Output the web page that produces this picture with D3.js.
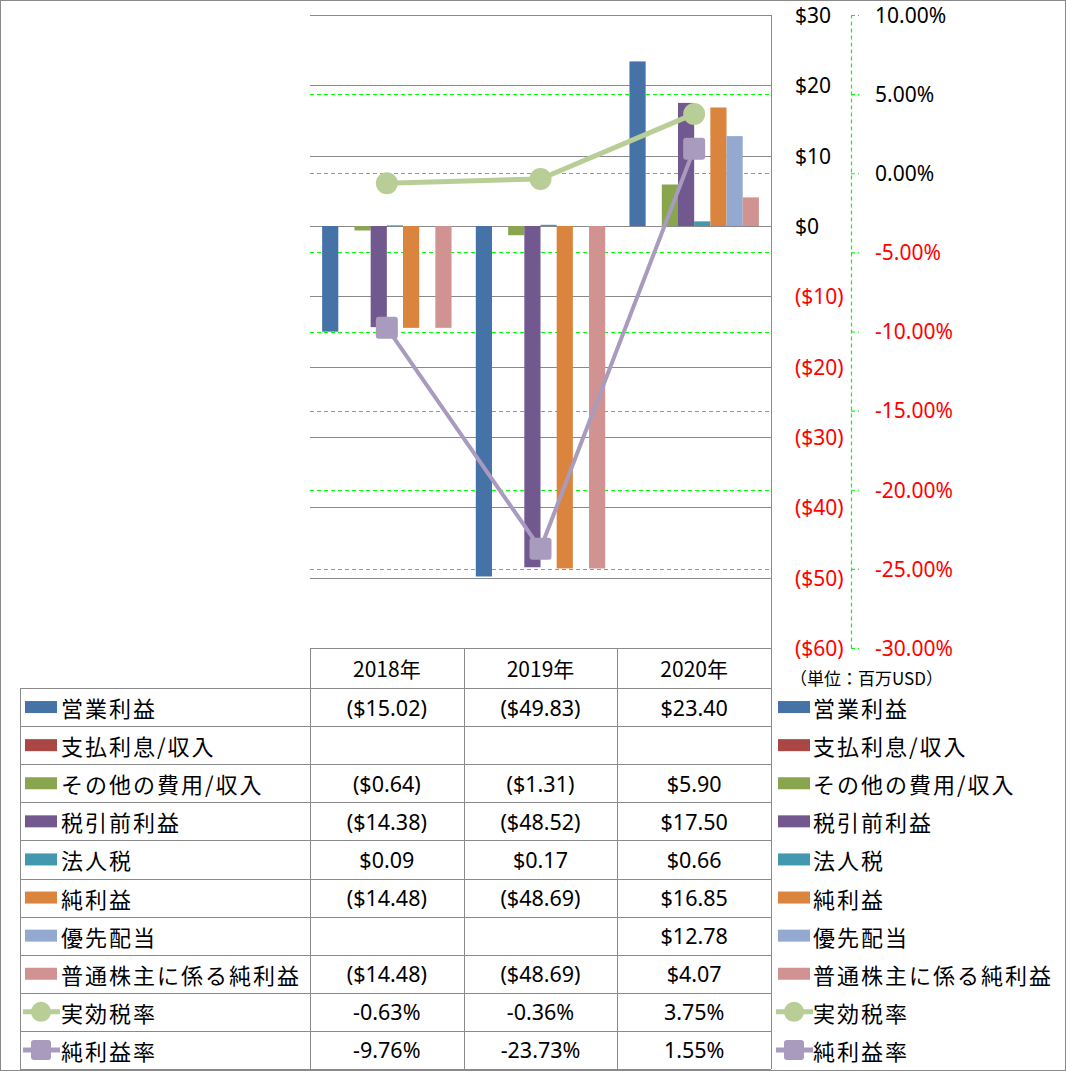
<!DOCTYPE html>
<html>
<head>
<meta charset="utf-8">
<script src="https://cdn.jsdelivr.net/npm/d3@7"></script>
<style>
  body { margin: 0; background: #fff; }
  svg text { font-family: "Noto Sans", sans-serif; }
  .jp { font-family: "Noto Sans CJK JP", sans-serif; }
</style>
</head>
<body>
<div id="chart"></div>
<script>
// Income summary: bars on $ axis (left/primary), rates on % axis (secondary)

const years = ['2018年', '2019年', '2020年'];

const barNames = ['営業利益', '支払利息/収入', 'その他の費用/収入', '税引前利益', '法人税', '純利益', '優先配当', '普通株主に係る純利益'];
const opIncome    = [-15.02, -49.83, 23.40];
const interest    = [null, null, null];
const otherExp    = [-0.64, -1.31, 5.90];
const preTax      = [-14.38, -48.52, 17.50];
const incomeTax   = [0.09, 0.17, 0.66];
const netIncome   = [-14.48, -48.69, 16.85];
const prefDiv     = [null, null, 12.78];
const commonNet   = [-14.48, -48.69, 4.07];
const barValues = [opIncome, interest, otherExp, preTax, incomeTax, netIncome, prefDiv, commonNet];
const barColors = ['#4572a7', '#aa4643', '#89a54e', '#71588f', '#4198af', '#db843d', '#93a9cf', '#d19392'];

const lineNames = ['実効税率', '純利益率'];
const taxRate   = [-0.63, -0.36, 3.75];
const netMargin = [-9.76, -23.73, 1.55];
const lineValues = [taxRate, netMargin];
const lineColors = ['#b9cd96', '#a99bbd'];

const dollarTicks = [30, 20, 10, 0, -10, -20, -30, -40, -50, -60];
const pctTicks = [10, 5, 0, -5, -10, -15, -20, -25, -30];

const W = 1066, H = 1071;
const plot = {left: 310, right: 771, top: 15, bottom: 648};
const rowH = 38.1, headTop = 648, rowTop = 688;
const gridColor = '#8a8a8a';

const svg = d3.select('#chart').append('svg')
	.attr('width', W)
	.attr('height', H);

const x = d3.scaleBand()
	.domain(years)
	.range([plot.left, plot.right])
	.padding(0);

const xs = d3.scaleBand()
	.domain(barNames)
	.range([0, x.bandwidth()])
	.paddingInner(0)
	.paddingOuter(0.75);

const y = d3.scaleLinear()
	.domain([-60, 30])
	.range([plot.bottom, plot.top]);

const y2 = d3.scaleLinear()
	.domain([-30, 10])
	.range([plot.bottom, plot.top]);

const fmtDollarAxis = v => v < 0 ? `($${-v})` : `$${v}`;
const fmtDollar = v => v == null ? '' : (v < 0 ? `($${Math.abs(v).toFixed(2)})` : `$${v.toFixed(2)}`);
const fmtPct = v => v.toFixed(2) + '%';

// outer frame
svg.append('rect')
	.attr('x', 0.5).attr('y', 0.5)
	.attr('width', W - 1).attr('height', H - 1)
	.attr('fill', 'none')
	.attr('stroke', gridColor);

// primary gridlines
svg.append('g')
	.selectAll('line')
	.data(dollarTicks)
	.join('line')
	.attr('x1', plot.left).attr('x2', plot.right)
	.attr('y1', d => Math.round(y(d)) + 0.5)
	.attr('y2', d => Math.round(y(d)) + 0.5)
	.attr('stroke', gridColor);

// secondary gridlines (green dashed)
svg.append('g')
	.selectAll('line')
	.data(pctTicks.filter(d => d !== 10 && d !== -30))
	.join('line')
	.attr('x1', plot.left).attr('x2', plot.right)
	.attr('y1', d => Math.round(y2(d)) + 0.5)
	.attr('y2', d => Math.round(y2(d)) + 0.5)
	.attr('stroke', '#00ff00')
	.attr('stroke-dasharray', '4,3');

// bars
const barGroups = svg.append('g')
	.selectAll('g')
	.data(barNames.map((name, i) => ({name, color: barColors[i], values: barValues[i]})))
	.join('g')
	.attr('fill', d => d.color);

barGroups.selectAll('rect')
	.data(d => d.values.map((v, j) => ({name: d.name, year: years[j], v})).filter(e => e.v != null))
	.join('rect')
	.attr('x', d => x(d.year) + xs(d.name))
	.attr('width', xs.bandwidth())
	.attr('y', d => y(Math.max(0, d.v)))
	.attr('height', d => Math.max(1, Math.abs(y(d.v) - y(0))));

// rate lines
const line = d3.line()
	.x((d, j) => x(years[j]) + x.bandwidth() / 2)
	.y(d => y2(d));

lineValues.forEach((vals, i) => {
	svg.append('path')
		.datum(vals)
		.attr('d', line)
		.attr('fill', 'none')
		.attr('stroke', lineColors[i])
		.attr('stroke-width', i === 0 ? 5 : 4)
		.attr('stroke-linejoin', 'round');

	const pts = svg.append('g')
		.selectAll('g')
		.data(vals)
		.join('g')
		.attr('transform', (d, j) => `translate(${x(years[j]) + x.bandwidth() / 2},${y2(d)})`);

	if (i === 0) {
		pts.append('circle').attr('r', 11).attr('fill', lineColors[i]);
	} else {
		pts.append('rect')
			.attr('x', -11).attr('y', -11)
			.attr('width', 22).attr('height', 22)
			.attr('rx', 3)
			.attr('fill', lineColors[i]);
	}
});

// plot right border
svg.append('line')
	.attr('x1', plot.right + 0.5).attr('x2', plot.right + 0.5)
	.attr('y1', plot.top).attr('y2', rowTop + rowH * 10)
	.attr('stroke', gridColor);

// primary axis labels
const yAxis = svg.append('g')
	.attr('transform', `translate(${plot.right},0)`)
	.call(d3.axisRight(y).tickValues(dollarTicks).tickSize(0).tickPadding(24).tickFormat(fmtDollarAxis));
yAxis.select('.domain').remove();
yAxis.selectAll('text')
	.attr('font-family', '"Noto Sans", sans-serif')
	.attr('font-size', 21)
	.attr('dy', '0.35em')
	.attr('fill', d => d < 0 ? '#ff0000' : '#000');

// secondary axis
const y2Axis = svg.append('g')
	.attr('transform', 'translate(851,0)')
	.call(d3.axisRight(y2).tickValues(pctTicks).tickSize(8).tickSizeOuter(0).tickPadding(16).tickFormat(fmtPct));
y2Axis.select('.domain')
	.attr('stroke', '#00ff00')
	.attr('stroke-width', 1.2)
	.attr('stroke-dasharray', '4,3');
y2Axis.selectAll('.tick line')
	.attr('stroke', '#00ff00')
	.attr('stroke-width', 1.2)
	.attr('stroke-dasharray', '4,3');
y2Axis.selectAll('text')
	.attr('font-family', '"Noto Sans", sans-serif')
	.attr('font-size', 21)
	.attr('dy', '0.35em')
	.attr('fill', d => d < 0 ? '#ff0000' : '#000');

svg.append('text')
	.attr('class', 'jp')
	.attr('x', 790).attr('y', 677)
	.attr('dominant-baseline', 'central')
	.attr('font-size', 17)
	.text('（単位：百万USD）');

// data table
const rows = barNames.map((name, i) => ({name, kind: 'bar', color: barColors[i], values: barValues[i]}))
	.concat(lineNames.map((name, i) => ({name, kind: i === 0 ? 'circle' : 'square', color: lineColors[i], values: lineValues[i]})));

const table = svg.append('g');
const colX = [20, plot.left].concat(years.map(yr => x(yr) + x.bandwidth()));
const tableBottom = rowTop + rowH * rows.length;

// header row
table.append('line')
	.attr('x1', plot.left).attr('x2', plot.right)
	.attr('y1', headTop + 0.5).attr('y2', headTop + 0.5)
	.attr('stroke', gridColor);
table.selectAll('.hline')
	.data(d3.range(rows.length + 1))
	.join('line')
	.attr('x1', 20).attr('x2', plot.right)
	.attr('y1', i => Math.round(rowTop + i * rowH) + 0.5)
	.attr('y2', i => Math.round(rowTop + i * rowH) + 0.5)
	.attr('stroke', gridColor);
table.selectAll('.vline')
	.data(colX.slice(0, 4))
	.join('line')
	.attr('x1', d => Math.round(d) + 0.5).attr('x2', d => Math.round(d) + 0.5)
	.attr('y1', (d, i) => i === 0 ? rowTop : headTop)
	.attr('y2', tableBottom)
	.attr('stroke', gridColor);

table.selectAll('.yr')
	.data(years)
	.join('text')
	.attr('class', 'jp')
	.attr('x', d => x(d) + x.bandwidth() / 2)
	.attr('y', (headTop + rowTop) / 2)
	.attr('text-anchor', 'middle')
	.attr('dominant-baseline', 'central')
	.attr('font-size', 21)
	.text(d => d);

function legendKey(g, d, x0) {
	if (d.kind === 'bar') {
		g.append('rect')
			.attr('x', x0).attr('y', -6)
			.attr('width', 32).attr('height', 12)
			.attr('fill', d.color);
	} else {
		g.append('line')
			.attr('x1', x0 - 2).attr('x2', x0 + 35)
			.attr('stroke', d.color).attr('stroke-width', 5);
		if (d.kind === 'circle') {
			g.append('circle').attr('cx', x0 + 16).attr('r', 10).attr('fill', d.color);
		} else {
			g.append('rect')
				.attr('x', x0 + 6).attr('y', -10)
				.attr('width', 20).attr('height', 20)
				.attr('rx', 3)
				.attr('fill', d.color);
		}
	}
}

rows.forEach((d, i) => {
	const cy = rowTop + i * rowH + rowH / 2;
	const left = table.append('g').attr('transform', `translate(0,${cy})`);
	legendKey(left, d, 25);
	left.append('text')
		.attr('class', 'jp')
		.attr('x', 61)
		.attr('dominant-baseline', 'central')
		.attr('font-size', 22)
		.attr('letter-spacing', 2)
		.text(d.name);

	const right = table.append('g').attr('transform', `translate(0,${cy})`);
	legendKey(right, d, 778);
	right.append('text')
		.attr('class', 'jp')
		.attr('x', 813)
		.attr('dominant-baseline', 'central')
		.attr('font-size', 22)
		.attr('letter-spacing', 2)
		.text(d.name);

	years.forEach((yr, j) => {
		const v = d.values[j];
		table.append('text')
			.attr('x', x(yr) + x.bandwidth() / 2)
			.attr('y', cy)
			.attr('text-anchor', 'middle')
			.attr('dominant-baseline', 'central')
			.attr('font-size', 21.5)
			.text(d.kind === 'bar' ? fmtDollar(v) : fmtPct(v));
	});
});
</script>
</body>
</html>
